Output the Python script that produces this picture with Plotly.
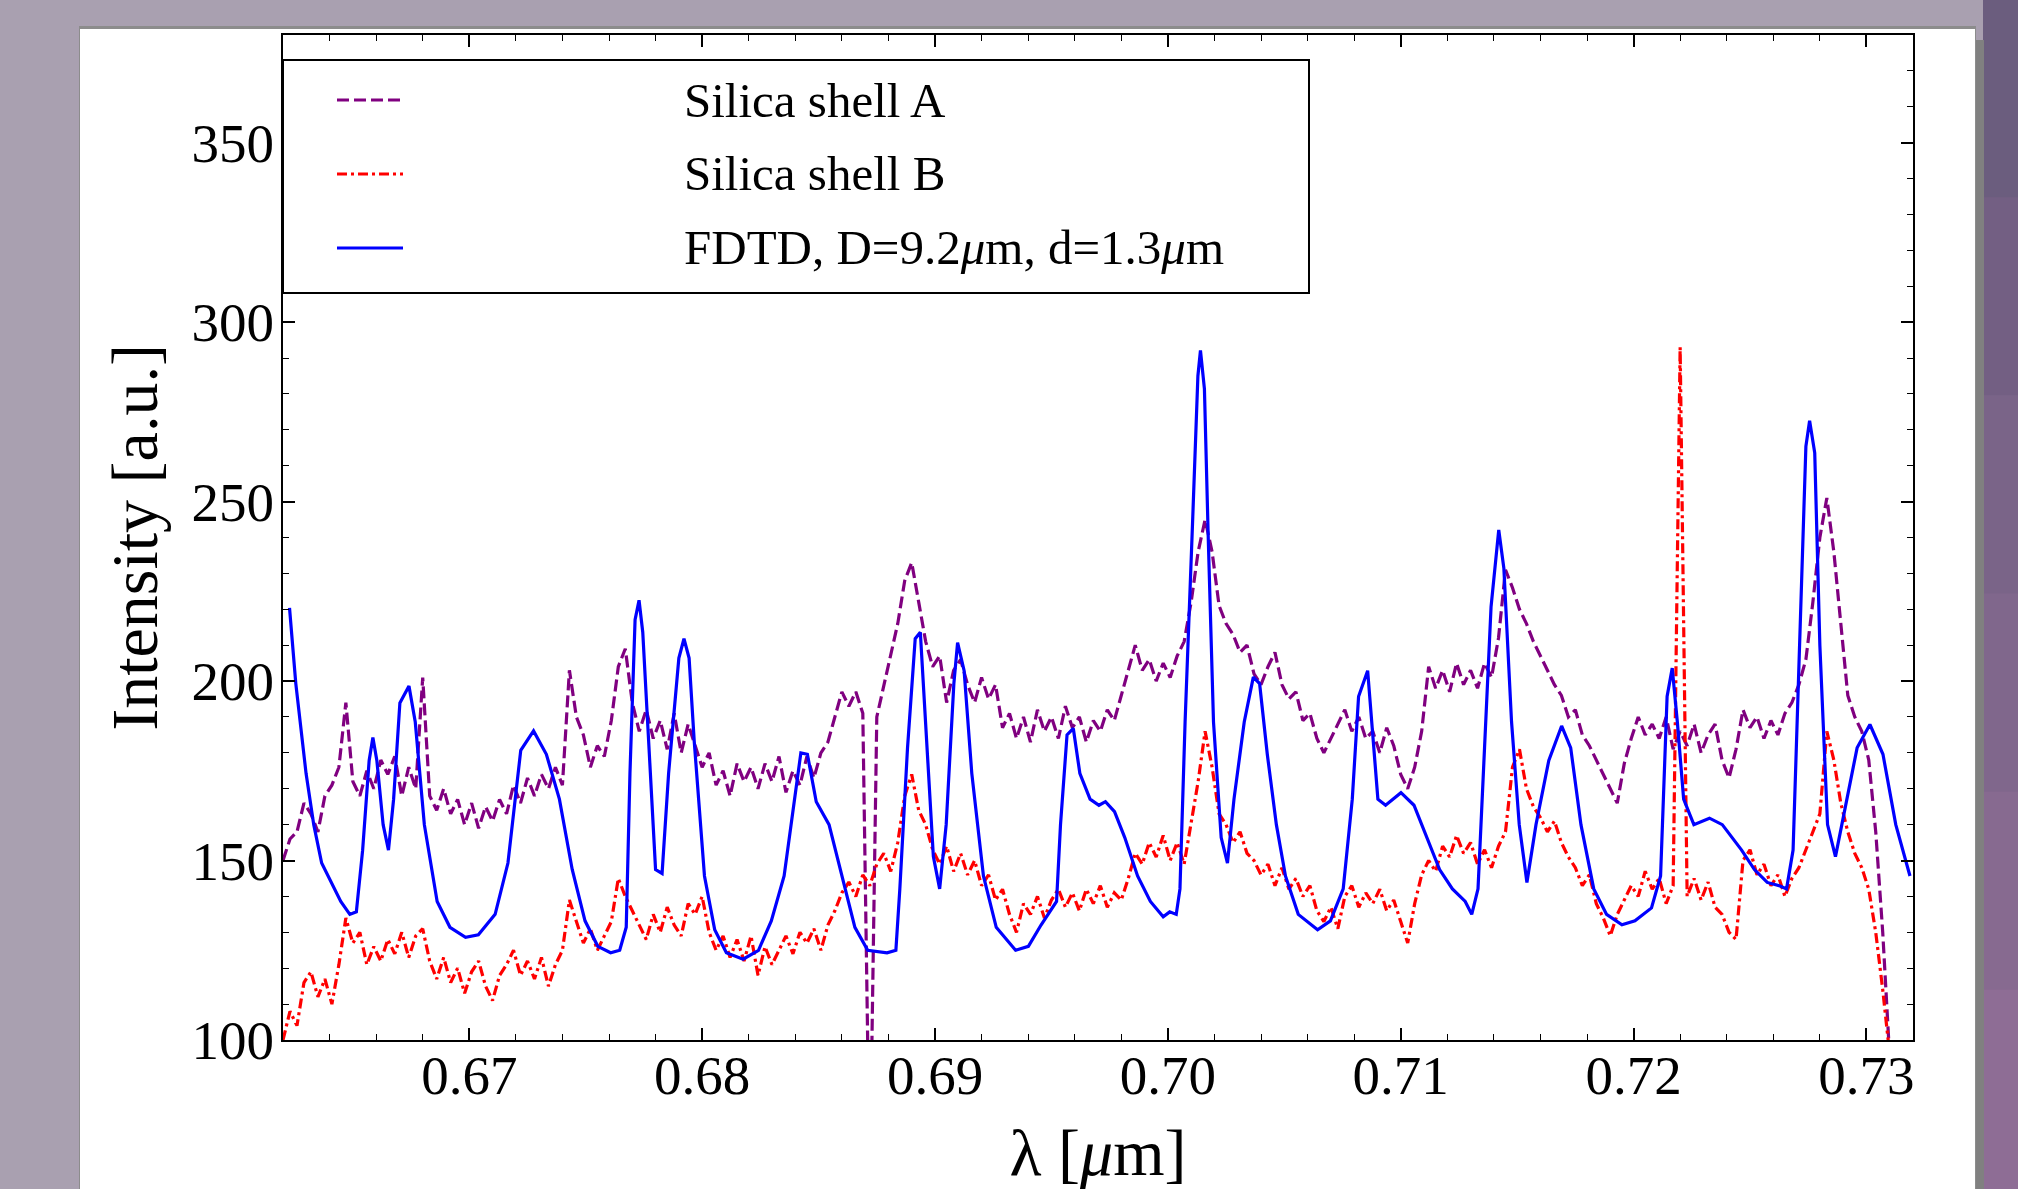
import plotly.graph_objects as go

# ---------------- data ----------------
# measured spectra sampled on a regular wavelength grid (start, step in µm)
spec_x0 = 0.6620
spec_dx = 0.0003

shell_a = [150, 156, 158, 166, 163, 158, 168, 171, 176, 194,
           172, 168, 175, 170, 178, 174, 179, 168, 176, 170,
           201, 168, 164, 170, 163, 167, 160, 166, 159, 165,
           161, 167, 163, 171, 166, 173, 168, 174, 170, 176,
           171, 203, 190, 185, 176, 182, 179, 189, 204, 209,
           194, 186, 192, 184, 189, 181, 191, 180, 188, 182,
           176, 180, 171, 175, 168, 177, 172, 176, 170, 177,
           172, 179, 169, 175, 171, 179, 173, 180, 183, 190,
           197, 193, 197, 191, 60, 190, 199, 208, 216, 228,
           233, 222, 211, 204, 207, 194, 203, 206, 199, 194,
           201, 195, 199, 187, 191, 184, 190, 183, 192, 186,
           190, 184, 193, 187, 190, 183, 189, 186, 192, 189,
           196, 203, 210, 203, 206, 200, 205, 201, 207, 211,
           222, 236, 245, 236, 221, 216, 213, 208, 210, 202,
           199, 204, 208, 199, 195, 197, 189, 191, 184, 180,
           184, 188, 192, 186, 190, 184, 186, 180, 187, 182,
           174, 170, 176, 186, 204, 198, 203, 197, 205, 199,
           203, 198, 205, 201, 212, 231, 226, 220, 216, 211,
           207, 203, 199, 196, 190, 192, 185, 182, 178, 174,
           170, 166, 177, 184, 190, 185, 188, 184, 190, 181,
           186, 182, 188, 180, 185, 188, 178, 173, 181, 192,
           187, 190, 184, 189, 185, 191, 194, 199, 206, 222,
           240, 251, 236, 215, 196, 190, 186, 178, 158, 130,
           95, 70]

shell_b = [100, 108, 104, 116, 119, 112, 117, 110, 121, 134,
           127, 130, 121, 126, 122, 128, 124, 130, 123, 129,
           131, 122, 117, 123, 116, 120, 113, 119, 122, 115,
           111, 118, 121, 125, 118, 122, 117, 123, 115, 121,
           125, 139, 133, 127, 131, 125, 129, 133, 145, 140,
           136, 132, 128, 135, 130, 137, 132, 129, 138, 135,
           140, 130, 125, 129, 123, 128, 122, 129, 118, 126,
           121, 125, 129, 124, 130, 127, 131, 125, 132, 136,
           141, 144, 140, 146, 143, 149, 152, 147, 155, 168,
           174, 164, 160, 153, 149, 154, 147, 152, 146, 150,
           143, 146, 139, 142, 135, 130, 138, 135, 140, 134,
           139, 142, 137, 141, 136, 142, 138, 143, 137, 141,
           139, 145, 152, 149, 155, 151, 157, 150, 155, 149,
           160, 172, 186, 176, 163, 160, 155, 158, 152, 150,
           146, 149, 143, 148, 142, 145, 140, 143, 136, 133,
           137, 131, 140, 143, 137, 141, 138, 142, 136, 139,
           133, 127, 138, 146, 150, 147, 154, 151, 157, 152,
           155, 149, 153, 148, 154, 158, 176, 181, 170, 165,
           162, 158, 161, 155, 151, 148, 143, 146, 138, 134,
           129, 135, 139, 143, 140, 147, 142, 145, 138, 143,
           293, 140, 145, 139, 144, 137, 135, 130, 128, 150,
           153, 146, 149, 143, 146, 140, 145, 148, 153, 158,
           163, 186, 178, 166, 158, 152, 148, 142, 130, 114,
           96, 70]

# FDTD simulation (smooth curve)
fdtd_x = [0.66228, 0.66255, 0.66299, 0.66332, 0.66366, 0.66410, 0.66448, 0.66487, 0.66515, 0.66542,
          0.66570, 0.66586, 0.66603, 0.66630, 0.66653, 0.66675, 0.66702, 0.66741, 0.66768, 0.66807,
          0.66862, 0.66917, 0.66984, 0.67039, 0.67111, 0.67166, 0.67221, 0.67276, 0.67331, 0.67387,
          0.67442, 0.67497, 0.67552, 0.67607, 0.67646, 0.67674, 0.67690, 0.67712, 0.67729, 0.67745,
          0.67773, 0.67800, 0.67828, 0.67856, 0.67900, 0.67922, 0.67944, 0.67966, 0.68010, 0.68054,
          0.68104, 0.68176, 0.68242, 0.68297, 0.68352, 0.68391, 0.68424, 0.68452, 0.68490, 0.68545,
          0.68601, 0.68656, 0.68711, 0.68794, 0.68832, 0.68849, 0.68882, 0.68915, 0.68937, 0.68959,
          0.68993, 0.69020, 0.69048, 0.69081, 0.69097, 0.69125, 0.69158, 0.69208, 0.69263, 0.69346,
          0.69401, 0.69456, 0.69522, 0.69539, 0.69567, 0.69594, 0.69622, 0.69666, 0.69704, 0.69732,
          0.69771, 0.69815, 0.69870, 0.69925, 0.69980, 0.70008, 0.70036, 0.70052, 0.70074, 0.70107,
          0.70129, 0.70140, 0.70157, 0.70174, 0.70196, 0.70229, 0.70256, 0.70284, 0.70328, 0.70367,
          0.70394, 0.70427, 0.70466, 0.70505, 0.70560, 0.70643, 0.70698, 0.70753, 0.70792, 0.70819,
          0.70858, 0.70880, 0.70902, 0.70935, 0.71001, 0.71057, 0.71112, 0.71167, 0.71222, 0.71277,
          0.71305, 0.71332, 0.71360, 0.71388, 0.71421, 0.71443, 0.71476, 0.71509, 0.71542, 0.71581,
          0.71636, 0.71691, 0.71730, 0.71774, 0.71829, 0.71884, 0.71950, 0.72006, 0.72077, 0.72116,
          0.72144, 0.72166, 0.72188, 0.72215, 0.72259, 0.72326, 0.72381, 0.72464, 0.72519, 0.72574,
          0.72629, 0.72657, 0.72685, 0.72712, 0.72740, 0.72756, 0.72778, 0.72800, 0.72833, 0.72867,
          0.72905, 0.72960, 0.73015, 0.73071, 0.73126, 0.73187]
fdtd_y = [220.4, 199.3, 174.3, 160.0, 149.3, 143.6, 138.6, 135.0, 135.7, 152.9,
          177.9, 184.3, 177.9, 160.0, 152.9, 167.1, 193.9, 198.6, 188.6, 160.0,
          138.6, 131.4, 128.6, 129.3, 135.0, 149.3, 180.7, 186.1, 179.6, 167.1,
          147.5, 133.2, 126.1, 124.3, 125.0, 131.4, 174.3, 217.1, 222.5, 213.6,
          181.4, 147.5, 146.4, 174.3, 206.4, 211.8, 206.4, 183.2, 145.7, 130.7,
          124.3, 122.5, 125.0, 133.2, 145.7, 163.6, 180.0, 179.6, 166.4, 160.0,
          145.7, 131.4, 125.0, 124.3, 125.0, 142.1, 181.4, 211.8, 213.6, 188.6,
          151.1, 142.1, 160.0, 199.3, 210.7, 202.9, 174.3, 145.7, 131.4, 125.0,
          126.1, 132.1, 138.6, 160.0, 185.0, 186.8, 174.3, 167.1, 165.4, 166.4,
          163.6, 156.4, 145.7, 138.6, 134.3, 135.7, 135.0, 142.1, 188.6, 245.7,
          285.0, 292.1, 281.4, 238.6, 188.6, 156.4, 149.3, 167.1, 188.6, 201.1,
          199.3, 179.6, 160.0, 145.7, 135.0, 130.7, 133.2, 142.1, 167.1, 195.7,
          202.9, 185.0, 167.1, 165.4, 168.9, 165.4, 156.4, 147.5, 142.1, 138.6,
          135.0, 142.1, 181.4, 220.7, 242.1, 231.4, 188.6, 160.0, 143.9, 160.0,
          177.9, 187.5, 181.4, 160.0, 142.1, 135.0, 132.1, 133.2, 136.8, 145.7,
          195.7, 203.6, 188.6, 167.1, 160.0, 161.8, 160.0, 152.9, 147.5, 143.9,
          142.9, 142.1, 152.9, 210.0, 265.4, 272.5, 263.6, 210.0, 160.0, 151.1,
          163.6, 181.4, 187.9, 179.6, 160.0, 145.7]

series_names = ["Silica shell A", "Silica shell B", "FDTD, D=9.2<i>μ</i>m, d=1.3<i>μ</i>m"]
series_colors = ["#800080", "#ff0000", "#0000ff"]
series_dash = ["12px,5px", "10px,4px,3px,4px", "solid"]

x_range = [0.662, 0.732]
y_range = [100, 380]
x_tickvals = [0.67, 0.68, 0.69, 0.70, 0.71, 0.72, 0.73]
x_ticktext = ["0.67", "0.68", "0.69", "0.70", "0.71", "0.72", "0.73"]
y_tickvals = [100, 150, 200, 250, 300, 350]

# ---------------- layout geometry (pixels) ----------------
W, H = 2018, 1189
PL, PR, PT, PB = 283, 1913, 35, 1040
BG = "#a9a0b0"


def px(xp):
    return (xp - PL) / (PR - PL)


def py(yp):
    return (PB - yp) / (PB - PT)


FONT = "Liberation Serif, Times New Roman, serif"

fig = go.Figure()
fig.add_trace(go.Scatter(x0=spec_x0, dx=spec_dx, y=shell_a, mode="lines", name=series_names[0],
                         line=dict(color=series_colors[0], width=3.2, dash=series_dash[0])))
fig.add_trace(go.Scatter(x0=spec_x0, dx=spec_dx, y=shell_b, mode="lines", name=series_names[1],
                         line=dict(color=series_colors[1], width=3.2, dash=series_dash[1])))
fig.add_trace(go.Scatter(x=fdtd_x, y=fdtd_y, mode="lines", name=series_names[2],
                         line=dict(color=series_colors[2], width=3.2)))

shapes = []
# background decoration: purple strip on the right, gray shadow, white panel
bands = ["#6b5d7e", "#735f83", "#7a6488", "#80678c", "#876a90", "#8e6d95"]
for i, c in enumerate(bands):
    y0 = i * H / len(bands)
    y1 = (i + 1) * H / len(bands)
    shapes.append(dict(type="rect", xref="paper", yref="paper", layer="below",
                       x0=px(1983), x1=px(W + 5), y0=py(y1 + 1), y1=py(y0 - 1),
                       fillcolor=c, line=dict(width=0)))
shapes.append(dict(type="rect", xref="paper", yref="paper", layer="below",
                   x0=px(1974), x1=px(1984), y0=py(H + 5), y1=py(40),
                   fillcolor="#808080", line=dict(width=0)))
shapes.append(dict(type="rect", xref="paper", yref="paper", layer="below",
                   x0=px(79), x1=px(1976), y0=py(H + 5), y1=py(26),
                   fillcolor="#8c8c8c", line=dict(width=0)))
shapes.append(dict(type="rect", xref="paper", yref="paper", layer="below",
                   x0=px(80), x1=px(1975), y0=py(H + 5), y1=py(29),
                   fillcolor="white", line=dict(width=0)))
# legend box
shapes.append(dict(type="rect", xref="paper", yref="paper", layer="above",
                   x0=px(283), x1=px(1309), y0=py(293), y1=py(60),
                   fillcolor="white", line=dict(color="black", width=2)))
legend_rows = [100, 174, 248]
annotations = []
for name, color, dash, yr in zip(series_names, series_colors, series_dash, legend_rows):
    shapes.append(dict(type="line", xref="paper", yref="paper", layer="above",
                       x0=px(337), x1=px(403), y0=py(yr), y1=py(yr),
                       line=dict(color=color, width=3.2, dash=dash)))
    annotations.append(dict(xref="paper", yref="paper", x=px(682), y=py(yr),
                            xanchor="left", yanchor="middle", showarrow=False,
                            text=name, font=dict(family=FONT, size=49, color="black")))

axis_common = dict(showline=True, linecolor="black", linewidth=2, mirror="allticks",
                   ticks="inside", ticklen=12, tickwidth=1.5, tickcolor="black",
                   showgrid=False, zeroline=False,
                   tickfont=dict(family=FONT, size=55, color="black"))

fig.update_layout(
    width=W, height=H,
    margin=dict(l=PL, r=W - PR, t=PT, b=H - PB),
    paper_bgcolor=BG,
    plot_bgcolor="white",
    showlegend=False,
    shapes=shapes,
    annotations=annotations,
    xaxis=dict(range=x_range, tickvals=x_tickvals, ticktext=x_ticktext,
               ticklabelstandoff=-14,
               minor=dict(dtick=0.002, tick0=0.66, ticks="inside", ticklen=6,
                          tickwidth=1.2, tickcolor="black"),
               title=dict(text="λ [<i>μ</i>m]", font=dict(family=FONT, size=66, color="black"),
                          standoff=25),
               **axis_common),
    yaxis=dict(range=y_range, tickvals=y_tickvals,
               ticklabelstandoff=-4,
               minor=dict(dtick=10, tick0=100, ticks="inside", ticklen=6,
                          tickwidth=1.2, tickcolor="black"),
               title=dict(text="Intensity [a.u.]", font=dict(family=FONT, size=66, color="black"),
                          standoff=12),
               **axis_common),
)

fig.write_html("out.html",
               config={"displayModeBar": False},
               post_script="document.body.style.margin='0px';"
                           "document.body.style.background='" + BG + "';"
                           "document.body.style.overflow='hidden';")
